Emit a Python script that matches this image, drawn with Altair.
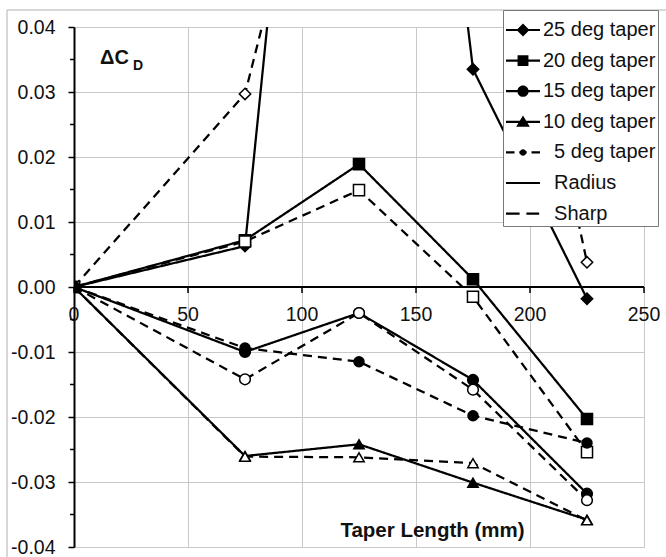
import altair as alt
import pandas as pd

# ---- data ----
x_mm = [0, 75, 125, 175, 225]
r25 = [0.0, 0.0063, 0.180, 0.0335, -0.0018]
s25 = [0.0, 0.0297, 0.099, 0.085, 0.0038]
r20 = [0.0, 0.0072, 0.0189, 0.0012, -0.0203]
s20 = [0.0, 0.0070, 0.0149, -0.0015, -0.0254]
r15 = [0.0, -0.0100, -0.0040, -0.0143, -0.0318]
s15 = [0.0, -0.0142, -0.0040, -0.0158, -0.0328]
r10 = [0.0, -0.0260, -0.0242, -0.0301, -0.0358]
s10 = [0.0, -0.0261, -0.0262, -0.0271, -0.0359]
t5 = [0.0, -0.0094, -0.0115, -0.0198, -0.0240]

tapers = ["25 deg", "20 deg", "15 deg", "10 deg", "5 deg"]
edges = ["Radius", "Sharp"]
x_ticks = [0, 50, 100, 150, 200, 250]
y_ticks = [-0.04, -0.03, -0.02, -0.01, 0.0, 0.01, 0.02, 0.03, 0.04]
y_minor = [-0.035, -0.025, -0.015, -0.005, 0.005, 0.015, 0.025, 0.035]
IND = "\u200b\u00a0\u00a0"
legend_labels = ["25 deg taper", "20 deg taper", "15 deg taper", "10 deg taper",
                 IND + "5 deg taper", IND + "Radius", IND + "Sharp"]

series = [
    ("25 deg", "Radius", r25), ("25 deg", "Sharp", s25),
    ("20 deg", "Radius", r20), ("20 deg", "Sharp", s20),
    ("15 deg", "Radius", r15), ("15 deg", "Sharp", s15),
    ("10 deg", "Radius", r10), ("10 deg", "Sharp", s10),
    ("5 deg", "Sharp", t5),
]
rows = []
for k, (tp, ed, vals) in enumerate(series):
    for xv, yv in zip(x_mm, vals):
        rows.append({"x": xv, "y": yv, "taper": tp, "edge": ed,
                     "series": f"{tp} {ed}", "k": k})
df = pd.DataFrame(rows)

FONT = "Liberation Sans"
W, H = 570, 520

xscale = alt.Scale(domain=[0, 250], nice=False)
yscale = alt.Scale(domain=[-0.04, 0.04], nice=False)

base = alt.Chart(df)

lines = base.mark_line(clip=True, strokeWidth=2.25, color="black").encode(
    x=alt.X("x:Q", scale=xscale,
            axis=alt.Axis(grid=True, gridColor="#c8c8c8", gridWidth=1, values=x_ticks,
                          labels=False, ticks=False, domain=False,
                          title="Taper Length (mm)", titleFont=FONT, titleFontSize=20.5,
                          titleFontWeight="bold", titleColor="#111", titleX=358, titleY=-17,
                          titleBaseline="middle", titleAlign="center")),
    y=alt.Y("y:Q", scale=yscale,
            axis=alt.Axis(values=y_ticks, grid=True, gridColor="#c8c8c8", gridWidth=1,
                          domainColor="black", domainWidth=2, tickColor="black",
                          tickWidth=1.5, tickSize=6, labelPadding=13, labelFont=FONT,
                          labelFontSize=19.5, labelColor="#111", format=".2f",
                          labelExpr="replace(datum.label, '\u2212', '-')", title=None)),
    detail="series:N",
    order="x:Q",
    strokeDash=alt.StrokeDash("edge:N", scale=alt.Scale(domain=edges, range=[[1, 0], [9, 6]]),
                              legend=None),
)

points = base.mark_point(clip=True, filled=False, stroke="black", strokeWidth=1.5, opacity=1).encode(
    x=alt.X("x:Q", scale=xscale),
    y=alt.Y("y:Q", scale=yscale),
    shape=alt.Shape("taper:N", scale=alt.Scale(
        domain=tapers, range=["diamond", "square", "circle", "triangle-up", "circle"]), legend=None),
    size=alt.Size("taper:N", scale=alt.Scale(domain=tapers, range=[130, 100, 100, 140, 36]),
                  legend=None),
    fill=alt.condition("datum.edge == 'Radius' || datum.taper == '5 deg'",
                       alt.value("black"), alt.value("white")),
    order="k:Q",
)

zero_df = pd.DataFrame({"x0": [0], "x1": [250], "y0": [0]})
zero_line = alt.Chart(zero_df).mark_rule(color="black", strokeWidth=2).encode(
    x=alt.X("x0:Q", scale=xscale), x2="x1:Q", y=alt.Y("y0:Q", scale=yscale))

tick_df = pd.DataFrame({"x": x_ticks, "lab": [str(v) for v in x_ticks]})
x_tickmarks = alt.Chart(tick_df).mark_rule(color="black", strokeWidth=1.5, y2Offset=6).encode(
    x=alt.X("x:Q", scale=xscale), y=alt.datum(0), y2=alt.datum(0))
x_labels = alt.Chart(tick_df).mark_text(font=FONT, fontSize=19.5, color="#111",
                                        baseline="middle", dy=28).encode(
    x=alt.X("x:Q", scale=xscale), y=alt.datum(0), text="lab:N")

minor_df = pd.DataFrame({"y": y_minor})
y_minor_ticks = alt.Chart(minor_df).mark_rule(color="black", strokeWidth=1.5).encode(
    x=alt.value(-4), x2=alt.value(0), y=alt.Y("y:Q", scale=yscale))

lbl_df = pd.DataFrame({"t": ["\u0394C"], "s": ["D"]})
dc_main = alt.Chart(lbl_df).mark_text(font=FONT, fontSize=20, fontWeight="bold", color="#111",
                                      align="left", baseline="alphabetic").encode(
    x=alt.value(26), y=alt.value(37), text="t:N")
dc_sub = alt.Chart(lbl_df).mark_text(font=FONT, fontSize=14, fontWeight="bold", color="#111",
                                     align="left", baseline="alphabetic").encode(
    x=alt.value(59), y=alt.value(43), text="s:N")

# legend symbols: filled line segment (thin rectangle) + marker, unit box -1..1
seg = "M{a},-0.065H{b}V0.065H{a}Z"
full = seg.format(a=-1, b=1)
legend_paths = [
    full + "M-0.38,0L0,-0.38L0.38,0L0,0.38Z",
    full + "M-0.32,-0.32H0.32V0.32H-0.32Z",
    full + "M0.33,0A0.33,0.33,0,1,1,-0.33,0A0.33,0.33,0,1,1,0.33,0Z",
    full + "M0,-0.37L0.4,0.29L-0.4,0.29Z",
    seg.format(a=-1, b=-0.5) + seg.format(a=-0.22, b=0.22) + seg.format(a=0.5, b=1)
    + "M0.19,0A0.19,0.19,0,1,1,-0.19,0A0.19,0.19,0,1,1,0.19,0Z",
    full,
    seg.format(a=-1, b=-0.2) + seg.format(a=0.2, b=0.95),
]
leg_df = pd.DataFrame({"label": legend_labels, "x": [0] * 7, "y": [1.0] * 7})
legend_layer = alt.Chart(leg_df).mark_point(clip=True, size=1156, fill="black",
                                            opacity=1, filled=True).encode(
    x=alt.X("x:Q", scale=xscale),
    y=alt.Y("y:Q", scale=yscale),
    shape=alt.Shape("label:N", sort=None,
                    scale=alt.Scale(domain=legend_labels, range=legend_paths),
                    legend=alt.Legend(title=None, orient="none", legendX=429, legendY=-17,
                                      fillColor="white", strokeColor="#7a7a7a", padding=2,
                                      rowPadding=2.6, labelFont=FONT, labelFontSize=20,
                                      labelColor="#111", labelLimit=400, labelOffset=2,
                                      symbolSize=1156, symbolFillColor="black",
                                      symbolOpacity=1, cornerRadius=0)),
)

frame_v = alt.Chart(lbl_df).mark_rule(color="#b0b0b0", strokeWidth=1).encode(
    x=alt.value(-67), y=alt.value(-17), y2=alt.value(540))
frame_h = alt.Chart(lbl_df).mark_rule(color="#b0b0b0", strokeWidth=1).encode(
    x=alt.value(-67), x2=alt.value(600), y=alt.value(-17))

chart = alt.layer(
    frame_v, frame_h, lines, zero_line, x_tickmarks, y_minor_ticks, points, x_labels,
    dc_main, dc_sub, legend_layer
).resolve_scale(shape="independent", size="independent").properties(
    width=W, height=H,
    autosize=alt.AutoSizeParams(type="none"),
    padding={"left": 74, "top": 27, "right": 22, "bottom": 10},
).configure_view(stroke=None).configure(background="white")

chart.save("out.html", embed_options={"renderer": "svg", "actions": False})
